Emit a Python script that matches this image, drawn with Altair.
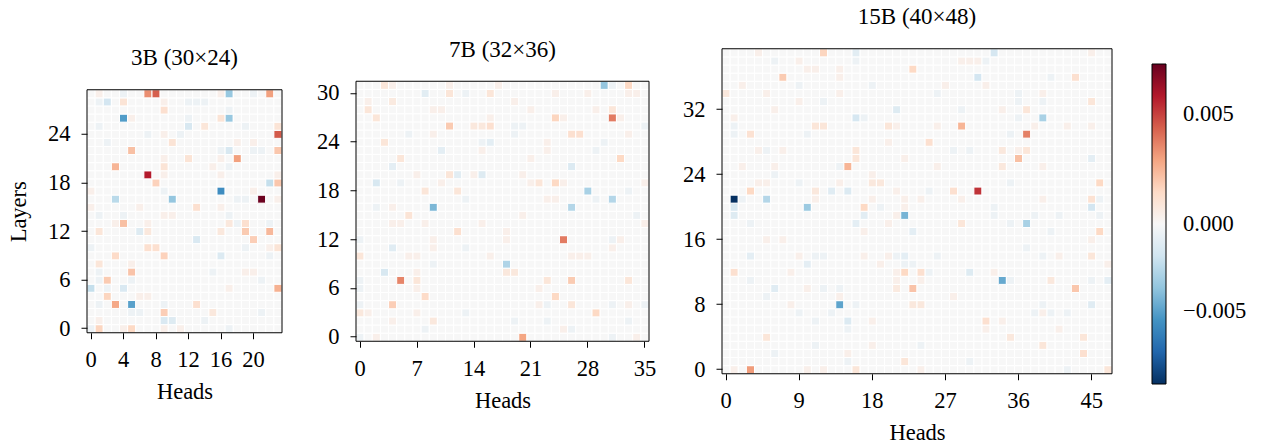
import altair as alt
import pandas as pd

FONT = "Liberation Serif"

# colour normalisation (two-slope, centred on zero)
VMIN = -0.0092
VMAX = 0.0073
RDBU_R = ["#053061", "#2166ac", "#4393c3", "#92c5de", "#d1e5f0", "#f7f7f7",
          "#fddbc7", "#f4a582", "#d6604d", "#b2182b", "#67001f"]
STOPS = [0.0, 0.1, 0.2, 0.3, 0.4, 0.5, 0.6, 0.7, 0.8, 0.9, 1.0]
CBAR_TICKS = [-0.005, 0.0, 0.005]

TITLES = ["3B (30×24)", "7B (32×36)", "15B (40×48)"]
N_LAYERS = [30, 32, 40]
N_HEADS = [24, 36, 48]
X_TICKS = [[0, 4, 8, 12, 16, 20], [0, 7, 14, 21, 28, 35], [0, 9, 18, 27, 36, 45]]
Y_TICKS = [[0, 6, 12, 18, 24], [0, 6, 12, 18, 24, 30], [0, 8, 16, 24, 32]]

# (layer, head, value) of the cells that differ visibly from zero
CELLS_3B = [
    (29, 1, .0004), (29, 4, -.0005), (29, 7, .0034), (29, 8, .0044), (29, 16, .0004), (29, 17, -.0035), (29, 20, -.0005), (29, 22, .0030),
    (28, 1, -.0005), (28, 2, -.0017), (28, 4, .0010), (28, 9, .0004), (28, 12, -.0005), (28, 13, -.0005), (28, 14, -.0005),
    (27, 9, .0012), (27, 17, -.0005),
    (26, 4, -.0052), (26, 5, .0004), (26, 12, -.0005), (26, 16, .0010), (26, 17, -.0035),
    (25, 1, -.0005), (25, 12, -.0015), (25, 14, .0009), (25, 19, -.0005), (25, 23, .0010),
    (24, 7, -.0005), (24, 9, .0004), (24, 11, -.0005), (24, 23, .0045),
    (23, 2, -.0005), (23, 10, .0010), (23, 18, .0004), (23, 20, .0004),
    (22, 5, .0022), (22, 16, -.0005), (22, 17, -.0015), (22, 20, -.0005), (22, 21, -.0005), (22, 23, .0020),
    (21, 9, .0004), (21, 12, .0010), (21, 16, .0004), (21, 18, .0030),
    (20, 3, .0025), (20, 9, .0010), (20, 15, .0004), (20, 17, -.0005),
    (19, 7, .0058), (19, 9, .0004), (19, 16, .0004), (19, 23, .0004),
    (18, 8, .0017), (18, 22, -.0022), (18, 23, .0020),
    (17, 0, .0004), (17, 9, -.0005), (17, 16, -.0058), (17, 20, .0004),
    (16, 3, -.0025), (16, 10, -.0036), (16, 18, -.0005), (16, 19, -.0005), (16, 21, .0072), (16, 23, .0004),
    (15, 0, .0004), (15, 6, .0004), (15, 13, .0012), (15, 16, .0004),
    (14, 1, -.0005), (14, 4, -.0005), (14, 9, .0004), (14, 10, .0004), (14, 17, -.0005),
    (13, 3, .0004), (13, 4, .0022), (13, 7, .0004), (13, 17, .0008), (13, 18, -.0005), (13, 19, .0012), (13, 22, -.0005),
    (12, 1, .0009), (12, 6, -.0012), (12, 7, .0008), (12, 16, .0008), (12, 19, .0019), (12, 22, .0024),
    (11, 13, -.0014), (11, 20, .0018),
    (10, 0, -.0005), (10, 7, .0012), (10, 8, .0012), (10, 19, -.0005), (10, 22, .0004), (10, 23, .0010),
    (9, 3, .0014), (9, 9, .0017), (9, 16, -.0013), (9, 22, -.0005),
    (8, 1, .0009), (8, 5, .0004),
    (7, 1, -.0005), (7, 5, .0021), (7, 15, -.0005), (7, 19, .0004), (7, 20, .0004),
    (6, 1, -.0005), (6, 2, .0019), (6, 5, -.0005), (6, 21, -.0005),
    (5, 0, -.0022), (5, 2, -.0005), (5, 4, -.0014), (5, 17, .0004), (5, 23, .0026),
    (4, 2, .0016), (4, 6, .0004), (4, 7, .0004),
    (3, 1, -.0005), (3, 3, .0028), (3, 5, -.0050), (3, 9, -.0005), (3, 13, .0012),
    (2, 5, -.0005), (2, 6, -.0005), (2, 9, .0018), (2, 15, .0008), (2, 21, -.0005),
    (1, 1, .0004), (1, 9, -.0014), (1, 10, -.0012), (1, 14, -.0005),
    (0, 0, -.0005), (0, 1, .0016), (0, 4, .0004), (0, 5, .0015), (0, 9, .0004), (0, 11, .0004), (0, 17, -.0005),
]

CELLS_7B = [
    (31, 3, .0009), (31, 4, .0004), (31, 11, .0004), (31, 17, .0004), (31, 30, -.0036), (31, 31, -.0005), (31, 33, .0015),
    (30, 8, -.0010), (30, 11, .0009), (30, 13, -.0005), (30, 16, .0009), (30, 24, .0004), (30, 28, .0004), (30, 33, .0004), (30, 34, .0004),
    (29, 1, .0004), (29, 4, .0007), (29, 19, .0004),
    (28, 1, .0009), (28, 9, .0004), (28, 10, .0004), (28, 21, .0004), (28, 29, .0004), (28, 31, .0009),
    (27, 2, .0009), (27, 16, .0004), (27, 24, .0016), (27, 25, .0004), (27, 31, .0038), (27, 32, .0004),
    (26, 11, .0019), (26, 14, .0008), (26, 15, .0008), (26, 16, .0012), (26, 19, -.0005), (26, 20, -.0005), (26, 35, -.0005),
    (25, 6, -.0005), (25, 9, .0004), (25, 19, -.0005), (25, 26, .0012), (25, 27, .0012), (25, 33, .0004),
    (24, 3, .0009), (24, 15, -.0005), (24, 16, -.0009), (24, 23, .0004), (24, 30, -.0005),
    (23, 10, -.0009), (23, 15, .0004), (23, 23, .0004), (23, 29, -.0005),
    (22, 5, .0009), (22, 21, .0004), (22, 32, .0015),
    (21, 4, -.0009), (21, 26, -.0013),
    (20, 7, .0004), (20, 11, .0009), (20, 12, -.0010), (20, 14, .0004), (20, 15, -.0012), (20, 20, .0004),
    (19, 2, -.0015), (19, 5, -.0005), (19, 10, .0004), (19, 21, .0004), (19, 22, .0009), (19, 24, .0015), (19, 25, .0004), (19, 35, .0004),
    (18, 8, .0009), (18, 12, .0009), (18, 28, -.0030), (18, 33, -.0005),
    (17, 13, -.0005), (17, 23, .0004), (17, 24, .0004), (17, 29, -.0005), (17, 31, -.0027),
    (16, 2, -.0005), (16, 4, .0004), (16, 9, -.0042), (16, 26, -.0027),
    (15, 6, .0010), (15, 20, .0004), (15, 34, -.0005),
    (14, 4, .0004), (14, 5, .0004), (14, 8, .0004), (14, 15, .0004), (14, 35, .0004),
    (13, 12, .0012), (13, 18, .0004),
    (12, 0, -.0005), (12, 9, .0004), (12, 18, .0004), (12, 25, .0038), (12, 31, -.0005), (12, 32, .0004),
    (11, 4, -.0011), (11, 9, .0004), (11, 13, -.0005), (11, 31, .0004),
    (10, 0, .0009), (10, 6, .0004), (10, 7, .0004), (10, 16, .0004), (10, 26, .0004), (10, 27, .0004), (10, 28, .0004),
    (9, 9, -.0005), (9, 18, -.0028),
    (8, 3, -.0015), (8, 7, .0004), (8, 18, .0008), (8, 19, .0008),
    (7, 0, -.0005), (7, 5, .0036), (7, 7, .0009), (7, 23, .0009), (7, 26, .0019), (7, 33, .0009),
    (6, 0, -.0005), (6, 7, .0004), (6, 22, .0004),
    (5, 8, .0014), (5, 24, .0015),
    (4, 0, -.0005), (4, 4, .0018), (4, 22, .0004), (4, 23, -.0005), (4, 26, .0009), (4, 31, -.0005), (4, 33, .0004), (4, 35, -.0005),
    (3, 0, .0008), (3, 1, .0004), (3, 7, .0004), (3, 13, -.0005), (3, 29, .0015),
    (2, 4, .0004), (2, 9, .0008), (2, 19, -.0005), (2, 23, -.0005), (2, 33, -.0005),
    (1, 8, -.0005), (1, 25, .0004), (1, 26, -.0005),
    (0, 0, -.0005), (0, 2, .0004), (0, 20, .0029), (0, 31, -.0005), (0, 34, .0004),
]

CELLS_15B = [
    (39, 4, .0004), (39, 12, .0016), (39, 16, -.0010), (39, 33, -.0016), (39, 45, .0004),
    (38, 6, -.0005), (38, 9, .0004), (38, 16, -.0005), (38, 29, .0004), (38, 30, .0004), (38, 31, .0004), (38, 32, -.0005),
    (37, 10, .0004), (37, 11, .0004), (37, 14, .0004), (37, 23, .0015),
    (36, 7, .0019), (36, 14, .0004), (36, 31, -.0017), (36, 40, -.0005), (36, 43, .0012),
    (35, 2, .0004), (35, 9, -.0005), (35, 18, -.0005), (35, 27, .0004), (35, 32, .0004),
    (34, 0, .0008), (34, 5, .0004), (34, 14, .0004), (34, 26, -.0005), (34, 36, -.0005), (34, 39, .0004),
    (33, 9, .0004), (33, 12, -.0005), (33, 36, -.0005), (33, 39, -.0005), (33, 45, .0009),
    (32, 6, .0004), (32, 21, -.0012), (32, 29, -.0005), (32, 34, .0004), (32, 37, .0009),
    (31, 1, .0004), (31, 16, -.0016), (31, 17, -.0005), (31, 36, -.0005), (31, 39, -.0030),
    (30, 1, -.0005), (30, 11, .0009), (30, 12, .0009), (30, 20, .0009), (30, 21, .0004), (30, 26, .0004), (30, 29, .0025), (30, 38, .0004), (30, 42, .0004), (30, 45, .0004),
    (29, 1, -.0005), (29, 3, .0011), (29, 10, -.0005), (29, 35, -.0005), (29, 37, .0037),
    (28, 20, .0004), (28, 25, .0012),
    (27, 4, .0004), (27, 5, -.0005), (27, 7, .0004), (27, 16, .0009), (27, 28, -.0005), (27, 30, -.0005), (27, 34, .0008), (27, 36, .0004), (27, 37, .0009),
    (26, 16, .0009), (26, 22, .0004), (26, 36, .0022), (26, 45, -.0009),
    (25, 2, .0004), (25, 6, .0004), (25, 14, -.0005), (25, 15, .0025), (25, 26, .0004), (25, 34, .0008), (25, 39, .0004),
    (24, 6, -.0005), (24, 18, .0004),
    (23, 4, .0004), (23, 5, .0004), (23, 9, -.0005), (23, 14, .0004), (23, 18, .0008), (23, 19, .0008), (23, 35, -.0005), (23, 46, .0015),
    (22, 3, .0015), (22, 11, .0008), (22, 13, -.0011), (22, 15, -.0013), (22, 21, .0004), (22, 25, -.0005), (22, 28, .0012), (22, 31, .0053),
    (21, 1, -.0092), (21, 2, -.0005), (21, 5, -.0027), (21, 11, .0004), (21, 18, .0004), (21, 22, .0004), (21, 24, .0004), (21, 29, .0004), (21, 39, .0004), (21, 45, .0011), (21, 46, -.0005),
    (20, 1, -.0015), (20, 10, -.0034), (20, 17, .0015), (20, 19, -.0005), (20, 22, .0004), (20, 33, -.0005), (20, 45, -.0017),
    (19, 1, -.0012), (19, 17, -.0010), (19, 21, .0004), (19, 22, -.0043), (19, 33, -.0005), (19, 38, -.0005), (19, 41, -.0005), (19, 46, -.0005),
    (18, 3, -.0005), (18, 16, -.0009), (18, 20, .0004), (18, 29, .0009), (18, 35, -.0005), (18, 37, -.0030),
    (17, 17, .0004), (17, 23, -.0009), (17, 40, -.0005), (17, 46, .0015),
    (16, 5, .0004), (16, 7, .0004), (16, 45, .0004),
    (15, 37, -.0005),
    (14, 3, -.0009), (14, 9, .0004), (14, 11, -.0005), (14, 12, -.0005), (14, 17, .0004), (14, 20, .0004), (14, 21, -.0005), (14, 22, -.0009), (14, 26, -.0005), (14, 39, -.0005), (14, 41, .0004), (14, 45, .0009),
    (13, 10, -.0009), (13, 19, .0004), (13, 22, -.0005), (13, 23, -.0005), (13, 47, .0004),
    (12, 1, .0012), (12, 8, .0004), (12, 21, .0004), (12, 22, .0015), (12, 24, .0012), (12, 25, -.0005), (12, 30, -.0012), (12, 33, .0004),
    (11, 3, -.0005), (11, 21, .0004), (11, 24, .0004), (11, 34, -.0047), (11, 35, -.0005), (11, 40, .0008), (11, 45, -.0005), (11, 47, -.0009),
    (10, 6, -.0011), (10, 10, .0004), (10, 12, -.0005), (10, 14, -.0005), (10, 21, .0007), (10, 23, .0021), (10, 43, .0020),
    (9, 5, -.0005), (9, 14, .0004), (9, 28, .0004),
    (8, 8, .0004), (8, 14, -.0049), (8, 16, -.0005), (8, 23, .0008), (8, 24, .0008), (8, 39, -.0005), (8, 45, -.0011),
    (7, 9, -.0005), (7, 13, -.0005), (7, 38, -.0005), (7, 39, .0004), (7, 40, -.0005), (7, 42, -.0005),
    (6, 11, -.0005), (6, 15, -.0013), (6, 18, .0004), (6, 32, .0012), (6, 34, .0004),
    (5, 15, -.0005), (5, 32, .0004), (5, 41, .0004),
    (4, 5, .0009), (4, 35, .0008), (4, 44, .0009),
    (3, 11, -.0005), (3, 18, .0004), (3, 24, -.0005), (3, 39, .0009),
    (2, 6, -.0005), (2, 15, .0004), (2, 44, .0012),
    (1, 15, -.0005), (1, 22, .0009), (1, 30, -.0005),
    (0, 1, .0004), (0, 3, .0031), (0, 10, .0004), (0, 12, .0004), (0, 16, .0009), (0, 24, .0004), (0, 42, -.0005), (0, 47, .0009),
]

ALL_CELLS = [CELLS_3B, CELLS_7B, CELLS_15B]

# panel sizes (plot area, px)
WIDTHS = [195, 293, 390]
HEIGHTS = [243, 260, 325]


def norm(v):
    return 0.5 + 0.5 * v / VMAX if v >= 0 else 0.5 - 0.5 * v / VMIN


LEG_VALUES = [norm(t) for t in CBAR_TICKS]

legend = alt.Legend(
    orient="none", legendX=1065, legendY=15.5, direction="vertical", title=None,
    gradientLength=320, gradientThickness=14, gradientStrokeColor="black",
    gradientStrokeWidth=1, values=LEG_VALUES,
    labelExpr="datum.value > 0.6 ? '0.005' : (datum.value < 0.4 ? '\u22120.005' : '0.000')",
    labelFont=FONT, labelFontSize=22.5, labelColor="black", labelOffset=17,
)


def frame(cells, n_layers, n_heads):
    lookup = {(l, h): v for l, h, v in cells}
    rows = [{"layer": l, "head": h, "v": lookup.get((l, h), 0.0)}
            for l in range(n_layers) for h in range(n_heads)]
    return pd.DataFrame(rows)


def panel(i):
    df = frame(ALL_CELLS[i], N_LAYERS[i], N_HEADS[i])
    yaxis = dict(values=Y_TICKS[i], labelOverlap=False)
    if i == 0:
        yaxis["title"] = "Layers"
    else:
        yaxis["title"] = None
    if i == 1:
        yaxis["minExtent"] = 47
    heat = (
        alt.Chart(df)
        .transform_calculate(
            n=f"datum.v >= 0 ? 0.5 + 0.5 * datum.v / {VMAX} : 0.5 - 0.5 * datum.v / {VMIN}"
        )
        .mark_rect(stroke="white", strokeWidth=1)
        .encode(
            x=alt.X("head:O", scale=alt.Scale(paddingInner=0, paddingOuter=0),
                    axis=alt.Axis(values=X_TICKS[i], title="Heads", labelAngle=0, labelOverlap=False)),
            y=alt.Y("layer:O", sort="descending", scale=alt.Scale(paddingInner=0, paddingOuter=0),
                    axis=alt.Axis(**yaxis)),
            color=alt.Color("n:Q", scale=alt.Scale(domain=STOPS, range=RDBU_R, interpolate="rgb",
                                                   clamp=True, nice=False, zero=False),
                            legend=legend),
        )
    )
    border = (
        alt.Chart(alt.Data(values=[{}]))
        .mark_rect(fillOpacity=0, stroke="black", strokeWidth=1)
        .encode(x=alt.value(0), x2=alt.value(WIDTHS[i]), y=alt.value(0), y2=alt.value(HEIGHTS[i]))
    )
    return alt.layer(heat, border, title=TITLES[i]).properties(width=WIDTHS[i], height=HEIGHTS[i])


chart = (
    alt.hconcat(panel(0), panel(1), panel(2), spacing=26, center=True)
    .properties(padding={"left": 7, "top": 5.5, "right": 5, "bottom": 0})
    .configure_view(stroke=None)
    .configure_axis(domain=False, grid=False, tickColor="black", tickSize=6, tickWidth=1,
                    labelFont=FONT, labelFontSize=22.5, labelColor="black",
                    titleFont=FONT, titleFontSize=22.5, titleFontWeight="normal", titleColor="black")
    .configure_axisX(labelPadding=10, titlePadding=9.5)
    .configure_axisY(labelPadding=11, titlePadding=17)
    .configure_title(font=FONT, fontSize=23, fontWeight="normal", color="black",
                     anchor="middle", baseline="alphabetic", offset=19)
)

chart.save("out.html", embed_options={"renderer": "svg", "actions": False})
